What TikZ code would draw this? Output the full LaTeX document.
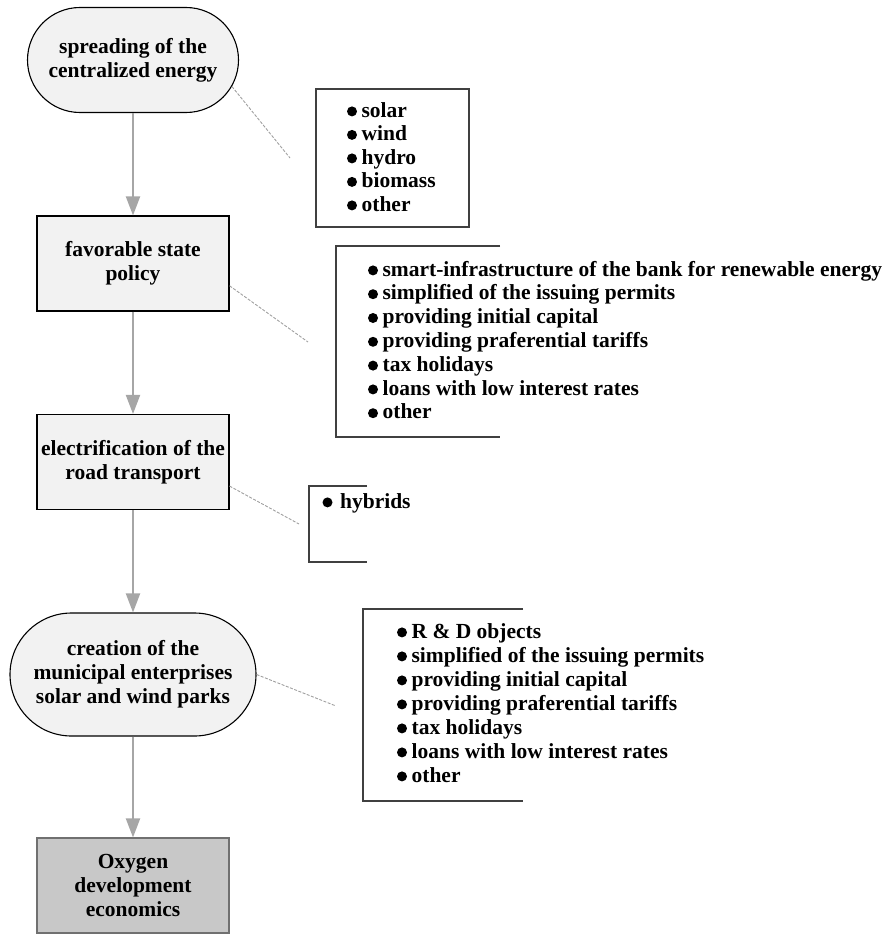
\documentclass[tikz,border=0pt]{standalone}
\usepackage{fontspec}
\setmainfont{Liberation Serif}
\usetikzlibrary{arrows.meta,shapes.misc}
\definecolor{boxfill}{HTML}{F2F2F2}
\definecolor{finalfill}{HTML}{C8C8C8}
\definecolor{finaldraw}{HTML}{707070}
\definecolor{arrowgray}{HTML}{A6A6A6}
\definecolor{bracketgray}{HTML}{404040}
\definecolor{dashgray}{HTML}{A0A0A0}
\newcommand{\blt}{\tikz[baseline=0pt]\fill[black] (0pt,5.6pt) circle[radius=5pt];\hspace{4.6pt}}
\begin{document}
\begin{tikzpicture}[x=1pt,y=-1pt,
  txt/.style={font=\bfseries\fontsize{21.5}{24}\selectfont},
  flow/.style={txt, draw=black, line width=1.1pt, fill=boxfill, align=center, inner sep=0pt},
  stadium/.style={flow, rounded rectangle},
  flowbox/.style={flow, rectangle, minimum width=192pt, minimum height=95pt},
  arr/.style={draw=arrowgray, line width=2pt, -{Triangle[length=19pt,width=14pt,fill=arrowgray]}},
  bracket/.style={draw=bracketgray, line width=1.3pt},
  leader/.style={draw=dashgray, line width=0.9pt, dash pattern=on 3pt off 1.5pt},
  item/.style={txt, anchor=base west, inner sep=0pt}
]
\useasboundingbox (0,0) rectangle (887,934);

% main flow
\node[stadium, minimum width=211pt, minimum height=105pt] (n1) at (133,60) {spreading of the\\centralized energy};
\node[flowbox] (n2) at (133,263.5) {favorable state\\policy};
\node[flowbox] (n3) at (133,462) {electrification of the\\road transport};
\node[stadium, minimum width=246pt, minimum height=123pt] (n4) at (133,674.5) {creation of the\\municipal enterprises\\solar and wind parks};
\node[flowbox, fill=finalfill, draw=finaldraw] (n5) at (133,885.5) {Oxygen\\development\\economics};

\draw[arr] (n1.south) -- (n2.north);
\draw[arr] (n2.south) -- (n3.north);
\draw[arr] (n3.south) -- (n4.north);
\draw[arr] (n4.south) -- (n5.north);

% bracket boxes
\draw[bracket] (316,89) rectangle (469,227);
\draw[bracket] (500,246) -- (336,246) -- (336,437) -- (500,437);
\draw[bracket] (367,486) -- (309,486) -- (309,562) -- (367,562);
\draw[bracket] (523,609) -- (363,609) -- (363,801) -- (523,801);

% list texts
\foreach \t [count=\i from 0] in {solar,wind,hydro,biomass,other}
  \node[item] (la\i) at (346.8,117+23.5*\i) {\blt\t};
\foreach \t [count=\i from 0] in {smart-infrastructure of the bank for renewable energy,simplified of the issuing permits,providing initial capital,providing praferential tariffs,tax holidays,loans with low interest rates,other}
  \node[item] (lb\i) at (367.8,276+23.8*\i) {\blt\t};
\node[item] (lc0) at (322.3,508) {\blt\hspace{3pt}hybrids};
\foreach \t [count=\i from 0] in {R \& D objects,simplified of the issuing permits,providing initial capital,providing praferential tariffs,tax holidays,loans with low interest rates,other}
  \node[item] (ld\i) at (396.8,638+24*\i) {\blt\t};

% leader lines
\coordinate (c1) at (290,158);
\coordinate (c2) at (308,342);
\coordinate (c3) at (299,524);
\coordinate (c4) at (336,706);
\draw[leader] (n1.-15.7) -- (c1);
\draw[leader] (n2.-13.8) -- (c2);
\draw[leader] (n3.-14) -- (c3);
\draw[leader] (n4.east) -- (c4);
\end{tikzpicture}
\end{document}
